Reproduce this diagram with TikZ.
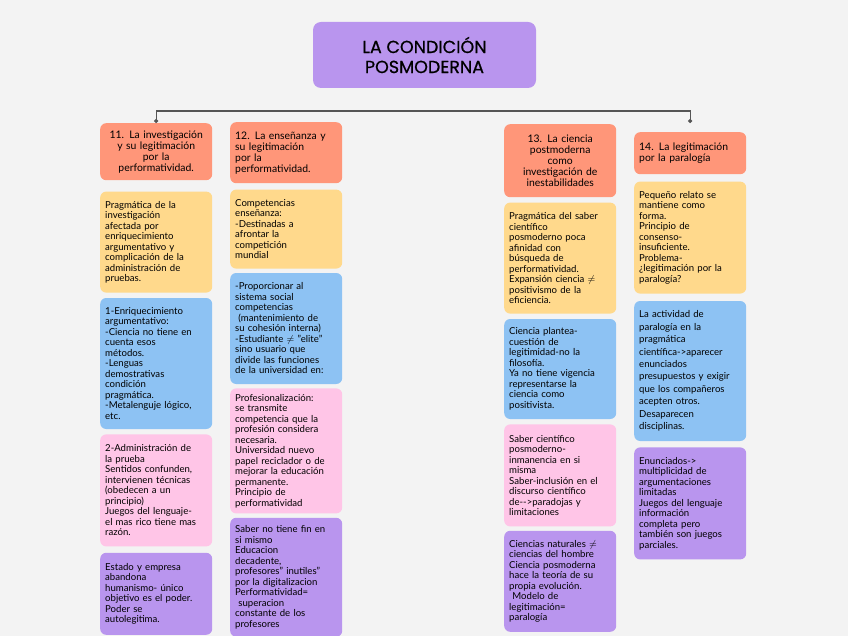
\documentclass[tikz,border=0pt]{standalone}
\usepackage{fontspec}
\setmainfont{Lato}
\newfontfamily\titlefont[FakeBold=0.6]{Poppins}
\usetikzlibrary{arrows.meta, positioning}

\definecolor{bgcol}{HTML}{F3F3F3}
\definecolor{topiccol}{HTML}{FF9679}
\definecolor{yellowcol}{HTML}{FFD98C}
\definecolor{bluecol}{HTML}{8DC2F3}
\definecolor{pinkcol}{HTML}{FFC5E7}
\definecolor{purplecol}{HTML}{B995EE}
\definecolor{linecol}{HTML}{555555}

\begin{document}
\begin{tikzpicture}[x=1pt, y=-1pt,
    title/.style={rectangle, fill=purplecol, rounded corners=8pt, minimum width=223pt, minimum height=66pt, align=center, font=\titlefont\fontsize{17.5}{20}\selectfont},
    topic/.style={rectangle, fill=topiccol, rounded corners=6pt, text width=102pt, inner xsep=5pt, font=\fontsize{10.4}{11}\selectfont},
    card/.style={rectangle, rounded corners=6pt, text width=102pt, inner xsep=5pt, align=left, font=\fontsize{9.6}{10.5}\selectfont},
    link/.style={draw=linecol, line width=1.2pt, -{Circle[length=4pt]}},
    node distance=5pt
]
\useasboundingbox (0,0) rectangle (848,636);
\fill[bgcol] (0,0) rectangle (848,636);

% Title
\node[title] (root) at (424.5,55) {LA CONDICIÓN\\POSMODERNA};

% Column 11
\node[topic, align=center, minimum height=57pt, anchor=north west] (t11) at (100,123) {11. La investigación\\y su legitimación\\por la\\performatividad.};
\node[card, fill=yellowcol, minimum height=101pt, below=11pt of t11] (a11) {Pragmática de la\\investigación\\afectada por\\enriquecimiento\\argumentativo y\\complicación de la\\administración de\\pruebas.};
\node[card, fill=bluecol, minimum height=131pt, below=of a11] (b11) {1-Enriquecimiento\\argumentativo:\\-Ciencia no tiene en\\cuenta esos\\métodos.\\-Lenguas\\demostrativas\\condición\\pragmática.\\-Metalenguje lógico,\\etc.};
\node[card, fill=pinkcol, minimum height=112pt, below=of b11] (c11) {2-Administración de\\la prueba\\Sentidos confunden,\\intervienen técnicas\\(obedecen a un\\principio)\\Juegos del lenguaje-\\el mas rico tiene mas\\razón.};
\node[card, fill=purplecol, minimum height=82pt, below=6pt of c11] (d11) {Estado y empresa\\abandona\\humanismo- único\\objetivo es el poder.\\Poder se\\autolegitima.};

% Column 12
\node[topic, align=left, minimum height=61pt, anchor=north west] (t12) at (230,122) {12. La enseñanza y\\su legitimación\\por la\\performatividad.};
\node[card, fill=yellowcol, minimum height=79pt, below=6pt of t12] (a12) {Competencias\\enseñanza:\\-Destinadas a\\afrontar la\\competición\\mundial};
\node[card, fill=bluecol, minimum height=111pt, below=4pt of a12] (b12) {-Proporcionar al\\sistema social\\competencias\\\ (mantenimiento de\\su cohesión interna)\\-Estudiante \smash{$\neq$} "elite"\\sino usuario que\\divide las funciones\\de la universidad en:};
\node[card, fill=pinkcol, minimum height=125pt, below=4pt of b12] (c12) {Profesionalización:\\se transmite\\competencia que la\\profesión considera\\necesaria.\\Universidad nuevo\\papel reciclador o de\\mejorar la educación\\permanente.\\Principio de\\performatividad};
\node[card, fill=purplecol, minimum height=119pt, below=4pt of c12] (d12) {Saber no tiene fin en\\si mismo\\Educacion\\decadente,\\profesores" inutiles"\\por la digitalizacion\\Performatividad=\\\ superacion\\constante de los\\profesores};

% Column 13
\node[topic, align=center, minimum height=73pt, anchor=north west] (t13) at (504,124) {13. La ciencia\\postmoderna\\como\\investigación de\\inestabilidades};
\node[card, fill=yellowcol, minimum height=111pt, below=of t13] (a13) {Pragmática del saber\\científico\\posmoderno poca\\afinidad con\\búsqueda de\\performatividad.\\Expansión ciencia \smash{$\neq$}\\positivismo de la\\eficiencia.};
\node[card, fill=bluecol, minimum height=100pt, below=of a13] (b13) {Ciencia plantea-\\cuestión de\\legitimidad-no la\\filosofía.\\Ya no tiene vigencia\\representarse la\\ciencia como\\positivista.};
\node[card, fill=pinkcol, minimum height=102pt, below=of b13] (c13) {Saber científico\\posmoderno-\\inmanencia en si\\misma\\Saber-inclusión en el\\discurso científico\\de-{}-{}>paradojas y\\limitaciones};
\node[card, fill=purplecol, minimum height=101pt, below=4pt of c13] (d13) {Ciencias naturales \smash{$\neq$}\\ciencias del hombre\\Ciencia posmoderna\\hace la teoría de su\\propia evolución.\\\ Modelo de\\legitimación=\\paralogía};

% Column 14
\node[topic, align=left, minimum height=42pt, anchor=north west] (t14) at (634,132) {14. La legitimación\\por la paralogía};
\node[card, fill=yellowcol, minimum height=112pt, below=7pt of t14] (a14) {Pequeño relato se\\mantiene como\\forma.\\Principio de\\consenso-\\insuficiente.\\Problema-\\¿legitimación por la\\paralogía?};
\node[card, fill=bluecol, minimum height=140pt, below=7pt of a14, font=\fontsize{9.6}{12.4}\selectfont] (b14) {La actividad de\\paralogía en la\\pragmática\\científica->aparecer\\enunciados\\presupuestos y exigir\\que los compañeros\\acepten otros.\\Desaparecen\\disciplinas.};
\node[card, fill=purplecol, minimum height=112pt, below=6pt of b14] (c14) {Enunciados->\\multiplicidad de\\argumentaciones\\limitadas\\Juegos del lenguaje\\información\\completa pero\\también son juegos\\parciales.};

% Connectors
\coordinate (bus) at (428,111);
\draw[link] (bus) -| (t11.north);
\draw[link] (bus) -| ([yshift=9pt]t14.north);
\end{tikzpicture}
\end{document}
